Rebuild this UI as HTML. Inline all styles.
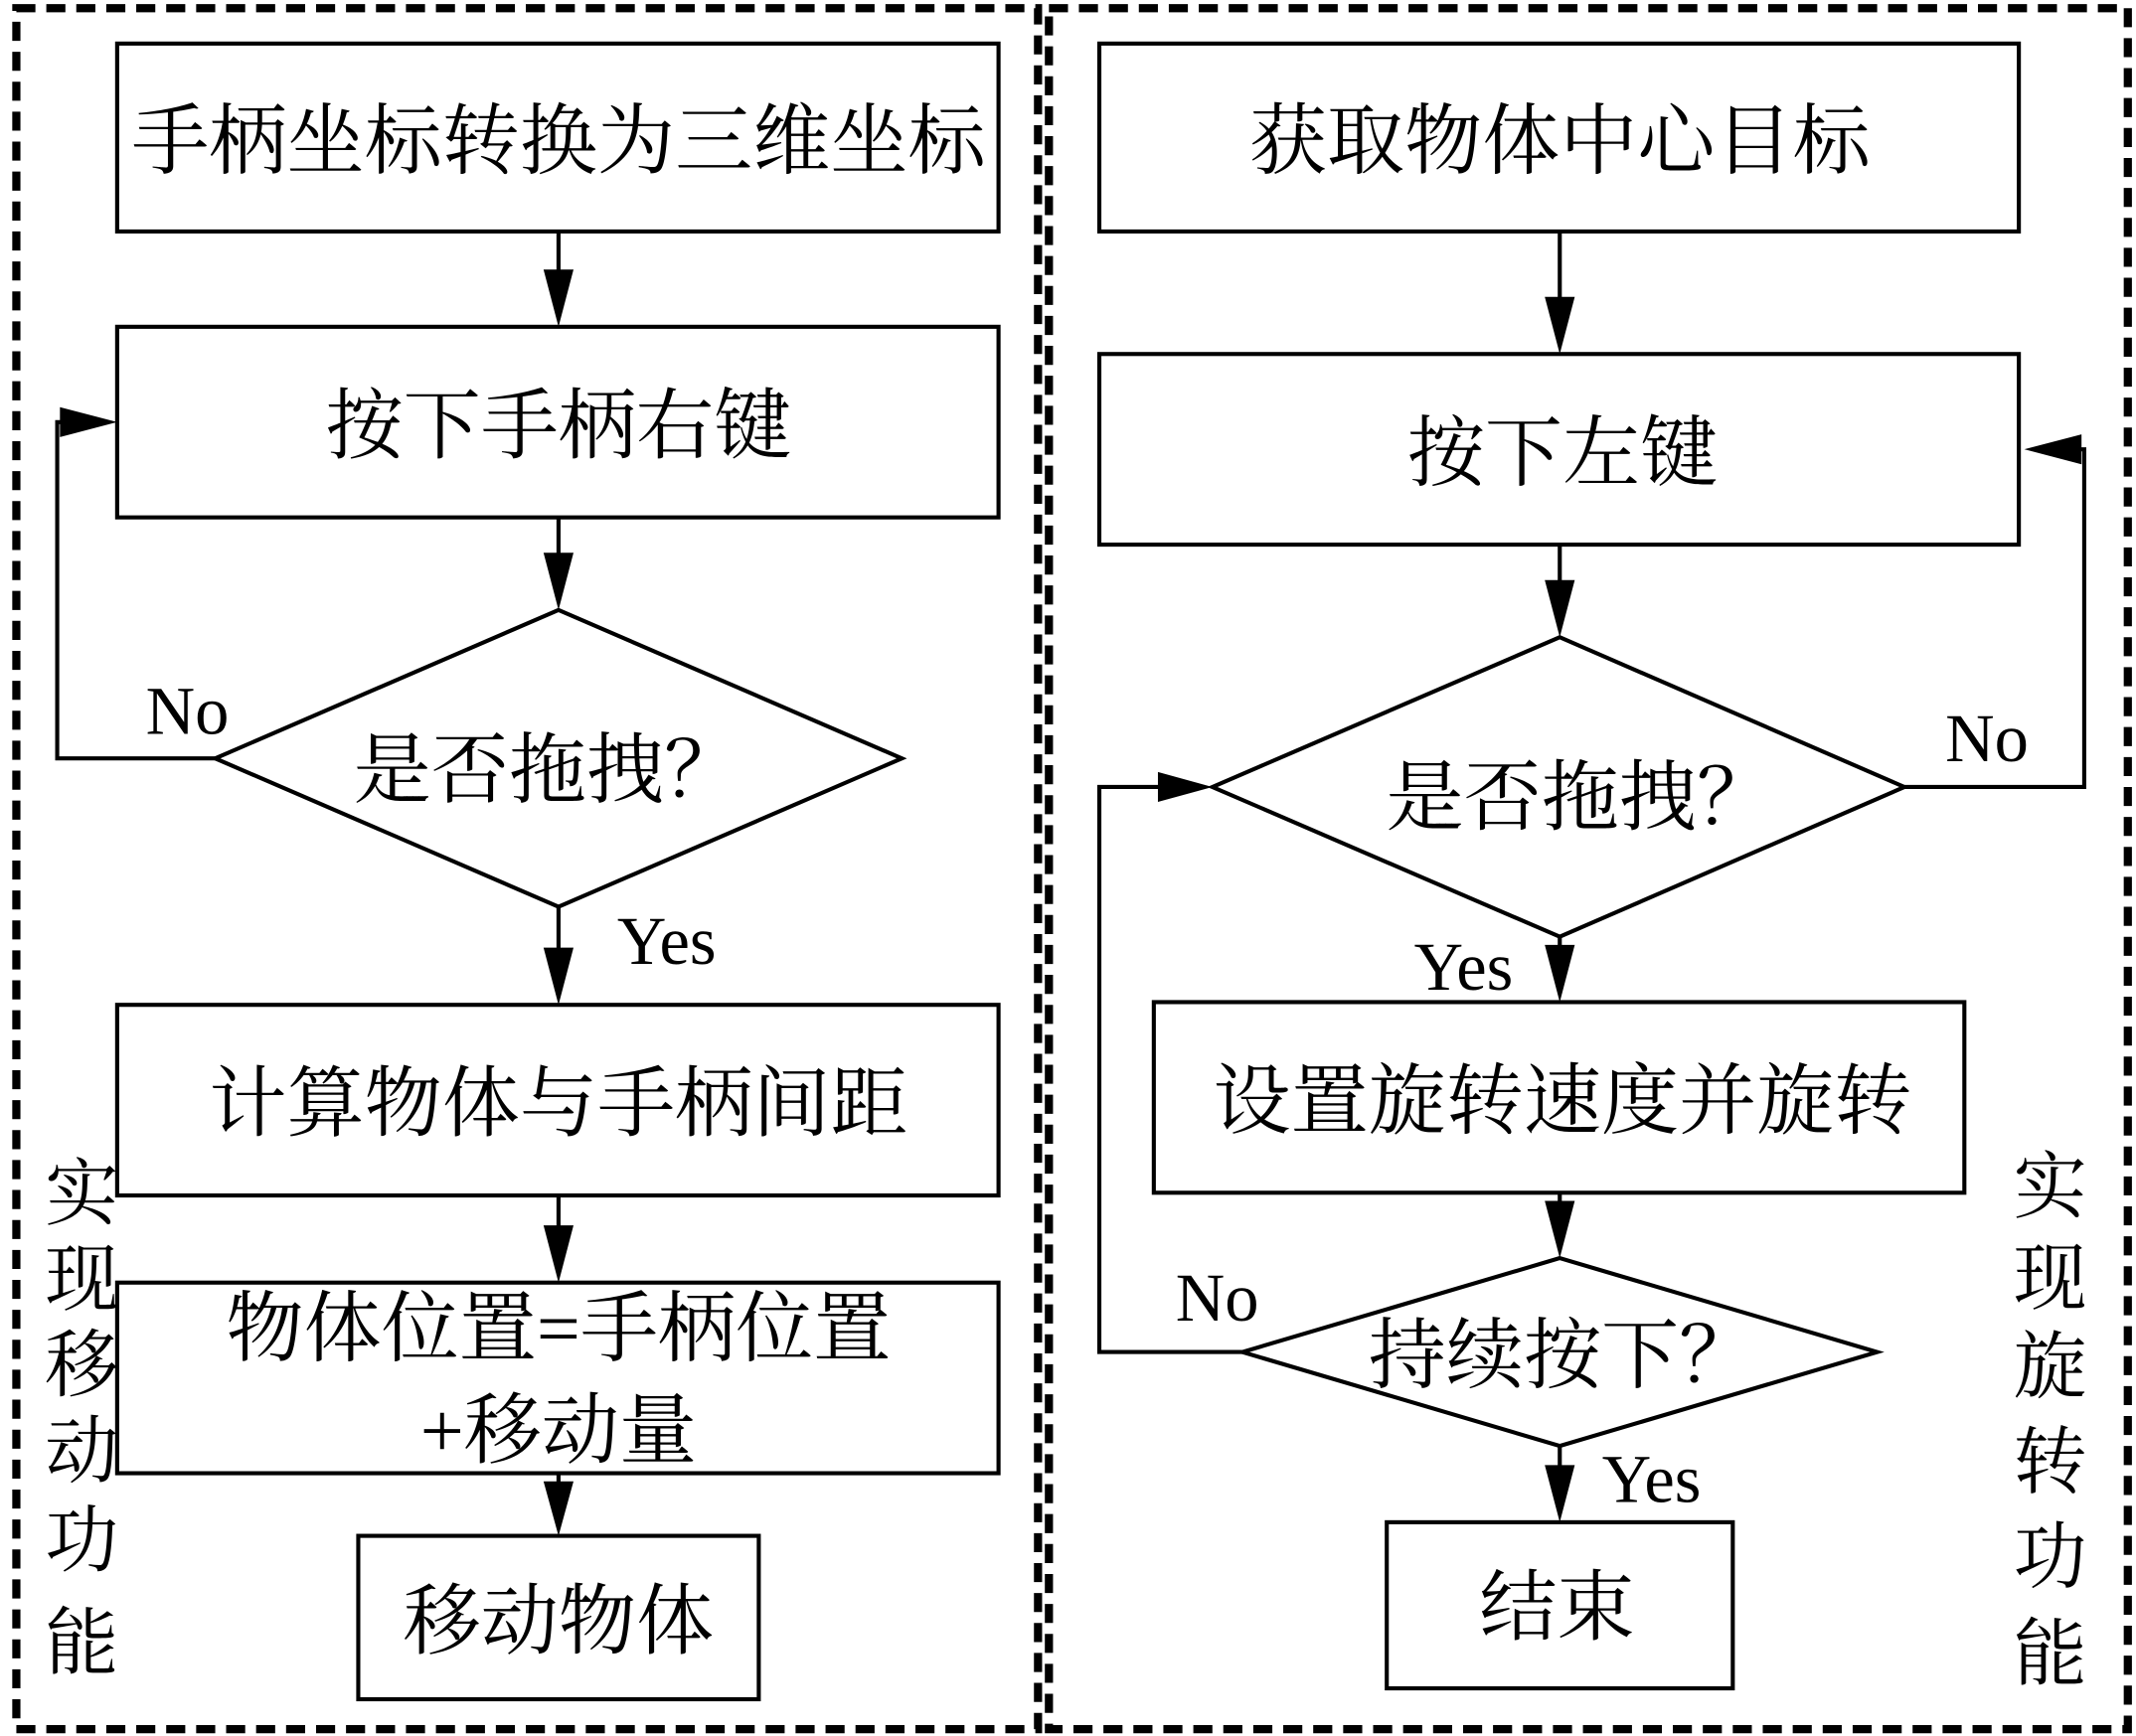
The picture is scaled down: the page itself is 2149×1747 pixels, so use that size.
<!DOCTYPE html>
<html><head><meta charset="utf-8"><style>
html,body{margin:0;padding:0;background:#fff}
svg{display:block}
text{font-family:"Liberation Serif","Noto Serif CJK SC",serif;fill:#000}
</style></head><body>
<svg width="2149" height="1747" viewBox="0 0 1568 1275" preserveAspectRatio="none" xmlns="http://www.w3.org/2000/svg">
<g fill="none" stroke="#000" stroke-width="6" stroke-dasharray="14,8">
<rect x="12" y="6" width="750" height="1264"/>
<rect x="770" y="6" width="792" height="1264"/>
</g>
<g fill="#fff" stroke="#000" stroke-width="3">
<rect x="86" y="32" width="647" height="138"/>
<rect x="86" y="240" width="647" height="140"/>
<polygon points="410,448 662,557 410,666 158,557"/>
<rect x="86" y="738" width="647" height="140"/>
<rect x="86" y="942" width="647" height="140"/>
<rect x="263" y="1128" width="294" height="120"/>
<rect x="807" y="32" width="675" height="138"/>
<rect x="807" y="260" width="675" height="140"/>
<polygon points="1145,468 1398,578 1145,688 890,578"/>
<rect x="847" y="736" width="595" height="140"/>
<polygon points="1145,924 1378,993 1145,1062 912,993"/>
<rect x="1018" y="1118" width="254" height="122"/>
</g>
<g fill="none" stroke="#000" stroke-width="3">
<line x1="410" y1="170" x2="410" y2="205"/>
<line x1="410" y1="380" x2="410" y2="412"/>
<line x1="410" y1="666" x2="410" y2="702"/>
<line x1="410" y1="878" x2="410" y2="906"/>
<line x1="410" y1="1082" x2="410" y2="1095"/>
<polyline points="158,557 42,557 42,310 50,310"/>
<line x1="1145" y1="170" x2="1145" y2="225"/>
<line x1="1145" y1="400" x2="1145" y2="432"/>
<line x1="1145" y1="688" x2="1145" y2="700"/>
<line x1="1145" y1="876" x2="1145" y2="888"/>
<line x1="1145" y1="1062" x2="1145" y2="1082"/>
<polyline points="1398,578 1530,578 1530,330 1520,330"/>
<polyline points="912,993 807,993 807,578 855,578"/>
</g>
<g fill="#000">
<polygon points="399,198 421,198 410,240"/>
<polygon points="399,406 421,406 410,448"/>
<polygon points="399,696 421,696 410,738"/>
<polygon points="399,900 421,900 410,942"/>
<polygon points="399,1088 421,1088 410,1128"/>
<polygon points="44,299 44,321 86,310"/>
<polygon points="1134,218 1156,218 1145,260"/>
<polygon points="1134,426 1156,426 1145,468"/>
<polygon points="1134,694 1156,694 1145,736"/>
<polygon points="1134,882 1156,882 1145,924"/>
<polygon points="1134,1076 1156,1076 1145,1118"/>
<polygon points="1528,319 1528,341 1486,330"/>
<polygon points="850,567 850,589 890,578"/>
</g>
<g font-size="57" text-anchor="middle">
<text x="410" y="123">手柄坐标转换为三维坐标</text>
<text x="410" y="332">按下手柄右键</text>
<text x="402" y="585">是否拖拽？</text>
<text x="410" y="830">计算物体与手柄间距</text>
<text x="410" y="995">物体位置=手柄位置</text>
<text x="410" y="1070">+移动量</text>
<text x="410" y="1210">移动物体</text>
<text x="1145" y="123">获取物体中心目标</text>
<text x="1147" y="352">按下左键</text>
<text x="1160" y="605">是否拖拽？</text>
<text x="1147" y="828">设置旋转速度并旋转</text>
<text x="1147" y="1015">持续按下？</text>
<text x="1143" y="1200">结束</text>
</g>
<g font-size="50">
<text x="107" y="539">No</text>
<text x="453" y="708">Yes</text>
<text x="1428" y="559">No</text>
<text x="1038" y="727">Yes</text>
<text x="863" y="970">No</text>
<text x="1176" y="1103">Yes</text>
</g>
<g font-size="54" text-anchor="middle">
<text x="60" y="895">实</text><text x="60" y="958">现</text><text x="60" y="1021">移</text><text x="60" y="1084">动</text><text x="60" y="1150">功</text><text x="60" y="1225">能</text>
<text x="1505" y="890">实</text><text x="1505" y="957">现</text><text x="1505" y="1022">旋</text><text x="1505" y="1092">转</text><text x="1505" y="1162">功</text><text x="1505" y="1233">能</text>
</g>
</svg>
</body></html>
